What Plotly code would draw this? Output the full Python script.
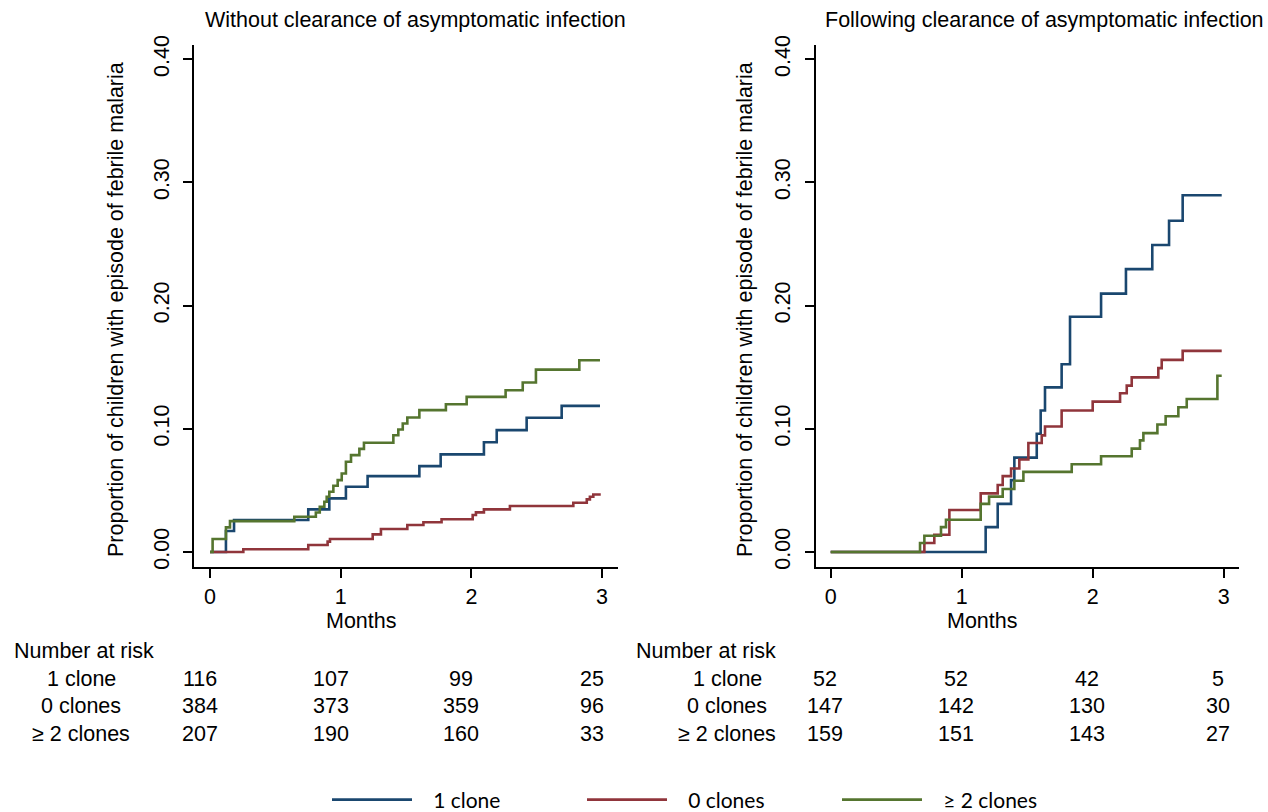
import plotly.graph_objects as go

# ---------------- data ----------------
groups = ["1 clone", "0 clones", "\u2265 2 clones"]
colors = ["#1A476F", "#90353B", "#55752F"]

# Left panel: without clearance of asymptomatic infection (months, cumulative proportion)
left_1_t = [0, 0.122, 0.184, 0.752, 0.913, 1.04, 1.206, 1.602, 1.765, 2.096, 2.194, 2.423, 2.691, 2.984]
left_1_v = [0, 0.017, 0.0259, 0.0346, 0.0435, 0.0529, 0.0616, 0.0697, 0.0792, 0.0891, 0.0989, 0.1089, 0.1186, 0.1186]
left_0_t = [0, 0.255, 0.752, 0.9, 0.918, 1.245, 1.308, 1.51, 1.633, 1.772, 2.01, 2.035, 2.096, 2.295, 2.78, 2.883, 2.907, 2.933, 2.99]
left_0_v = [0, 0.0022, 0.0057, 0.0084, 0.0105, 0.0143, 0.0186, 0.0219, 0.0241, 0.0265, 0.03, 0.0321, 0.0346, 0.0373, 0.04, 0.0427, 0.0448, 0.0467, 0.0467]
left_2_t = [0, 0.02, 0.122, 0.153, 0.645, 0.81, 0.84, 0.875, 0.893, 0.913, 0.944, 0.977, 1.008, 1.04, 1.079, 1.143, 1.178, 1.403, 1.441, 1.475, 1.51, 1.602, 1.805, 1.964, 2.262, 2.393, 2.494, 2.826, 2.984]
left_2_v = [0, 0.0105, 0.020, 0.025, 0.0286, 0.032, 0.0367, 0.0408, 0.0448, 0.0489, 0.0537, 0.0583, 0.0637, 0.0732, 0.0786, 0.0837, 0.0886, 0.0948, 0.0994, 0.1043, 0.1091, 0.1151, 0.1199, 0.1259, 0.1313, 0.1375, 0.148, 0.1556, 0.1556]

# Right panel: following clearance of asymptomatic infection
right_1_t = [0, 1.183, 1.275, 1.377, 1.402, 1.573, 1.603, 1.636, 1.763, 1.827, 2.064, 2.254, 2.455, 2.583, 2.687, 2.985]
right_1_v = [0, 0.0202, 0.039, 0.0583, 0.0766, 0.096, 0.1148, 0.1336, 0.1524, 0.1909, 0.2097, 0.2296, 0.2492, 0.2688, 0.2895, 0.2895]
right_0_t = [0, 0.715, 0.791, 0.906, 1.145, 1.275, 1.313, 1.377, 1.44, 1.509, 1.611, 1.636, 1.763, 2.0, 2.209, 2.26, 2.298, 2.501, 2.527, 2.687, 2.985]
right_0_v = [0, 0.0073, 0.014, 0.0341, 0.0476, 0.0543, 0.0616, 0.0677, 0.075, 0.0884, 0.0946, 0.1019, 0.1148, 0.122, 0.1288, 0.135, 0.1417, 0.1492, 0.1559, 0.1632, 0.1632]
right_2_t = [0, 0.682, 0.715, 0.842, 0.88, 1.145, 1.209, 1.313, 1.402, 1.471, 1.84, 2.064, 2.298, 2.361, 2.387, 2.494, 2.557, 2.654, 2.718, 2.952, 2.985]
right_2_v = [0, 0.0073, 0.0132, 0.0202, 0.0261, 0.039, 0.0449, 0.0511, 0.0578, 0.065, 0.0712, 0.0777, 0.0839, 0.0906, 0.0965, 0.1035, 0.1102, 0.1175, 0.1242, 0.143, 0.143]

# Number at risk tables (at months 0,1,2,3)
risk_times = [0, 1, 2, 3]
left_risk = {"1 clone": [116, 107, 99, 25], "0 clones": [384, 373, 359, 96], "\u2265 2 clones": [207, 190, 160, 33]}
right_risk = {"1 clone": [52, 52, 42, 5], "0 clones": [147, 142, 130, 30], "\u2265 2 clones": [159, 151, 143, 27]}

y_ticks = [0, 0.1, 0.2, 0.3, 0.4]
x_ticks = [0, 1, 2, 3]

title_left = "Without clearance of asymptomatic infection"
title_right = "Following clearance of asymptomatic infection"
ytitle = "Proportion of children with episode of febrile malaria"

# ---------------- figure ----------------
W, H = 1268, 812
FONT = "Liberation Sans, Arial, sans-serif"
FS = 21.5

def px(x):
    return x / W

def py(y):
    return 1 - y / H

fig = go.Figure()

left_series = [(left_1_t, left_1_v), (left_0_t, left_0_v), (left_2_t, left_2_v)]
right_series = [(right_1_t, right_1_v), (right_0_t, right_0_v), (right_2_t, right_2_v)]

for i, (t, v) in enumerate(left_series):
    fig.add_trace(go.Scatter(x=t, y=v, mode="lines", line=dict(color=colors[i], width=2.6, shape="hv"),
                             name="\u00a0\u00a0\u00a0" + groups[i], legendgroup=groups[i], showlegend=True,
                             xaxis="x", yaxis="y"))
for i, (t, v) in enumerate(right_series):
    fig.add_trace(go.Scatter(x=t, y=v, mode="lines", line=dict(color=colors[i], width=2.6, shape="hv"),
                             name=groups[i], legendgroup=groups[i], showlegend=False,
                             xaxis="x2", yaxis="y2"))

ydom = [py(567), py(45)]
yrange = [-0.0122, 0.4115]
axis_common = dict(showline=True, linecolor="black", linewidth=1.5, ticks="outside", ticklen=9,
                   tickwidth=1.5, tickcolor="black", showgrid=False, zeroline=False,
                   tickfont=dict(family=FONT, size=FS, color="black"), mirror=False)

fig.update_layout(
    width=W, height=H,
    margin=dict(l=0, r=0, t=0, b=0, autoexpand=False),
    paper_bgcolor="white", plot_bgcolor="white",
    font=dict(family=FONT, size=FS, color="black"),
    xaxis=dict(domain=[px(194), px(618)], range=[-0.1224, 3.122], tickvals=x_ticks,
               anchor="y", ticklabelstandoff=0, **axis_common),
    yaxis=dict(domain=ydom, range=yrange, tickvals=y_ticks, tickformat=".2f", tickangle=-90,
               anchor="x", ticklabelstandoff=6, **axis_common),
    xaxis2=dict(domain=[px(815.7), px(1239)], range=[-0.1145, 3.117], tickvals=x_ticks,
                anchor="y2", ticklabelstandoff=0, **axis_common),
    yaxis2=dict(domain=ydom, range=yrange, tickvals=y_ticks, tickformat=".2f", tickangle=-90,
                anchor="x2", ticklabelstandoff=6, **axis_common),
    legend=dict(orientation="h", x=px(327), xanchor="left", y=py(800), yanchor="middle",
                font=dict(family="Lato, Open Sans, sans-serif", size=21, color="black"),
                itemwidth=80, entrywidth=160, entrywidthmode="pixels",
                bgcolor="rgba(0,0,0,0)"),
    showlegend=True,
)

ann = []
# panel titles
ann.append(dict(text=title_left, x=px(415.5), y=py(20), xref="paper", yref="paper",
                showarrow=False, xanchor="center", yanchor="middle", font=dict(size=FS)))
ann.append(dict(text=title_right, x=px(1266), y=py(20), xref="paper", yref="paper",
                showarrow=False, xanchor="right", yanchor="middle", font=dict(size=FS)))
# y-axis titles
for xc in (116, 745):
    ann.append(dict(text=ytitle, x=px(xc), y=py(310), xref="paper", yref="paper", textangle=-90,
                    showarrow=False, xanchor="center", yanchor="middle", font=dict(size=FS)))
# x-axis titles
for xc in (361, 983):
    ann.append(dict(text="Months", x=px(xc), y=py(621), xref="paper", yref="paper",
                    showarrow=False, xanchor="center", yanchor="middle", font=dict(size=FS)))

# number at risk tables
row_y = [679, 706, 734]
for (xhdr, xlab, xref, table, shift) in ((12, 81, "x", left_risk, -10), (634, 727, "x2", right_risk, -6)):
    ann.append(dict(text="Number at risk", x=px(xhdr), y=py(651), xref="paper", yref="paper",
                    showarrow=False, xanchor="left", yanchor="middle", font=dict(size=FS)))
    for r, g in enumerate(groups):
        ann.append(dict(text=g, x=px(xlab), y=py(row_y[r]), xref="paper", yref="paper",
                        showarrow=False, xanchor="center", yanchor="middle", font=dict(size=FS)))
        for t, n in zip(risk_times, table[g]):
            ann.append(dict(text=str(n), x=t, y=py(row_y[r]), xref=xref, yref="paper", xshift=shift,
                            showarrow=False, xanchor="center", yanchor="middle", font=dict(size=FS)))

fig.update_layout(annotations=ann)
fig.write_html("out.html", config={"displayModeBar": False},
               post_script="document.body.style.margin='0px';")
